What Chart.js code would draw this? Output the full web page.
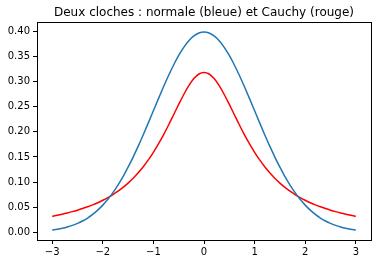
<!DOCTYPE html>
<html>
<head>
<meta charset="utf-8">
<script src="https://cdn.jsdelivr.net/npm/chart.js@4.4.1/dist/chart.umd.min.js"></script>
<style>
  html, body { margin: 0; padding: 0; background: #fff; }
  #wrap { width: 378px; height: 264px; }
</style>
</head>
<body>
<div id="wrap"><canvas id="cloches"></canvas></div>
<script>
// values, x from -3 to 3 every 0.1
const xs = [-3.0, -2.9, -2.8, -2.7, -2.6, -2.5, -2.4, -2.3, -2.2, -2.1,
            -2.0, -1.9, -1.8, -1.7, -1.6, -1.5, -1.4, -1.3, -1.2, -1.1,
            -1.0, -0.9, -0.8, -0.7, -0.6, -0.5, -0.4, -0.3, -0.2, -0.1,
            0.0, 0.1, 0.2, 0.3, 0.4, 0.5, 0.6, 0.7, 0.8, 0.9,
            1.0, 1.1, 1.2, 1.3, 1.4, 1.5, 1.6, 1.7, 1.8, 1.9,
            2.0, 2.1, 2.2, 2.3, 2.4, 2.5, 2.6, 2.7, 2.8, 2.9, 3.0];
const normale = [0.0044, 0.0060, 0.0079, 0.0104, 0.0136, 0.0175, 0.0224, 0.0283, 0.0355, 0.0440,
                 0.0540, 0.0656, 0.0790, 0.0940, 0.1109, 0.1295, 0.1497, 0.1714, 0.1942, 0.2179,
                 0.2420, 0.2661, 0.2897, 0.3123, 0.3332, 0.3521, 0.3683, 0.3814, 0.3910, 0.3970,
                 0.3989, 0.3970, 0.3910, 0.3814, 0.3683, 0.3521, 0.3332, 0.3123, 0.2897, 0.2661,
                 0.2420, 0.2179, 0.1942, 0.1714, 0.1497, 0.1295, 0.1109, 0.0940, 0.0790, 0.0656,
                 0.0540, 0.0440, 0.0355, 0.0283, 0.0224, 0.0175, 0.0136, 0.0104, 0.0079, 0.0060, 0.0044];
const cauchy = [0.0318, 0.0338, 0.0360, 0.0384, 0.0410, 0.0439, 0.0471, 0.0506, 0.0545, 0.0588,
                0.0637, 0.0690, 0.0751, 0.0818, 0.0894, 0.0979, 0.1075, 0.1183, 0.1305, 0.1440,
                0.1592, 0.1759, 0.1941, 0.2136, 0.2341, 0.2546, 0.2744, 0.2920, 0.3061, 0.3152,
                0.3183, 0.3152, 0.3061, 0.2920, 0.2744, 0.2546, 0.2341, 0.2136, 0.1941, 0.1759,
                0.1592, 0.1440, 0.1305, 0.1183, 0.1075, 0.0979, 0.0894, 0.0818, 0.0751, 0.0690,
                0.0637, 0.0588, 0.0545, 0.0506, 0.0471, 0.0439, 0.0410, 0.0384, 0.0360, 0.0338, 0.0318];
const xTicks = [-3, -2, -1, 0, 1, 2, 3];
const xTickLabels = ['\u22123', '\u22122', '\u22121', '0', '1', '2', '3'];
const yTicks = [0, 0.05, 0.1, 0.15, 0.2, 0.25, 0.3, 0.35, 0.4];
const yTickLabels = ['0.00', '0.05', '0.10', '0.15', '0.20', '0.25', '0.30', '0.35', '0.40'];
const titre = 'Deux cloches : normale (bleue) et Cauchy (rouge)';

const pts = arr => xs.map((x, i) => ({ x: x, y: arr[i] }));

// matplotlib style box around the plot + title centred over the plot area
const frame = {
    id: 'frame',
    afterDraw(chart) {
        const a = chart.chartArea;
        const c = chart.ctx;
        c.save();
        c.strokeStyle = '#000';
        c.lineWidth = 1;
        c.strokeRect(Math.round(a.left) + 0.5, Math.round(a.top) + 0.5,
                     Math.round(a.right - a.left), Math.round(a.bottom - a.top));
        c.fillStyle = '#000';
        c.font = '12px "DejaVu Sans"';
        c.textAlign = 'center';
        c.textBaseline = 'middle';
        c.fillText(titre, (a.left + a.right) / 2, 13);
        c.restore();
    }
};

const tickFont = { family: 'DejaVu Sans', size: 10 };

new Chart(document.getElementById('cloches'), {
    type: 'line',
    data: {
        datasets: [{
            label: 'normale',
            data: pts(normale),
            borderColor: '#1f77b4',
            borderWidth: 1.5,
            pointRadius: 0,
            fill: false,
            cubicInterpolationMode: 'monotone'
        }, {
            label: 'Cauchy',
            data: pts(cauchy),
            borderColor: '#ff0000',
            borderWidth: 1.5,
            pointRadius: 0,
            fill: false,
            cubicInterpolationMode: 'monotone'
        }]
    },
    options: {
        responsive: true,
        maintainAspectRatio: false,
        animation: false,
        layout: { padding: { left: 0, right: 7, top: 22, bottom: 0 } },
        plugins: {
            legend: { display: false },
            tooltip: { enabled: false },
            title: { display: false }
        },
        scales: {
            x: {
                type: 'linear',
                min: -3.3,
                max: 3.3,
                afterBuildTicks: s => { s.ticks = xTicks.map(v => ({ value: v })); },
                afterFit: s => { s.height = 24; },
                ticks: {
                    color: '#000',
                    font: tickFont,
                    padding: 2,
                    maxRotation: 0,
                    callback: v => xTickLabels[xTicks.indexOf(v)]
                },
                grid: { drawOnChartArea: false, drawTicks: true, tickLength: 4, color: '#000' },
                border: { display: false }
            },
            y: {
                min: -0.0155,
                max: 0.4188,
                afterBuildTicks: s => { s.ticks = yTicks.map(v => ({ value: v })); },
                afterFit: s => { s.width = 37; },
                ticks: {
                    color: '#000',
                    font: tickFont,
                    padding: 3,
                    callback: v => yTickLabels[yTicks.indexOf(v)]
                },
                grid: { drawOnChartArea: false, drawTicks: true, tickLength: 4, color: '#000' },
                border: { display: false }
            }
        }
    },
    plugins: [frame]
});
</script>
</body>
</html>
